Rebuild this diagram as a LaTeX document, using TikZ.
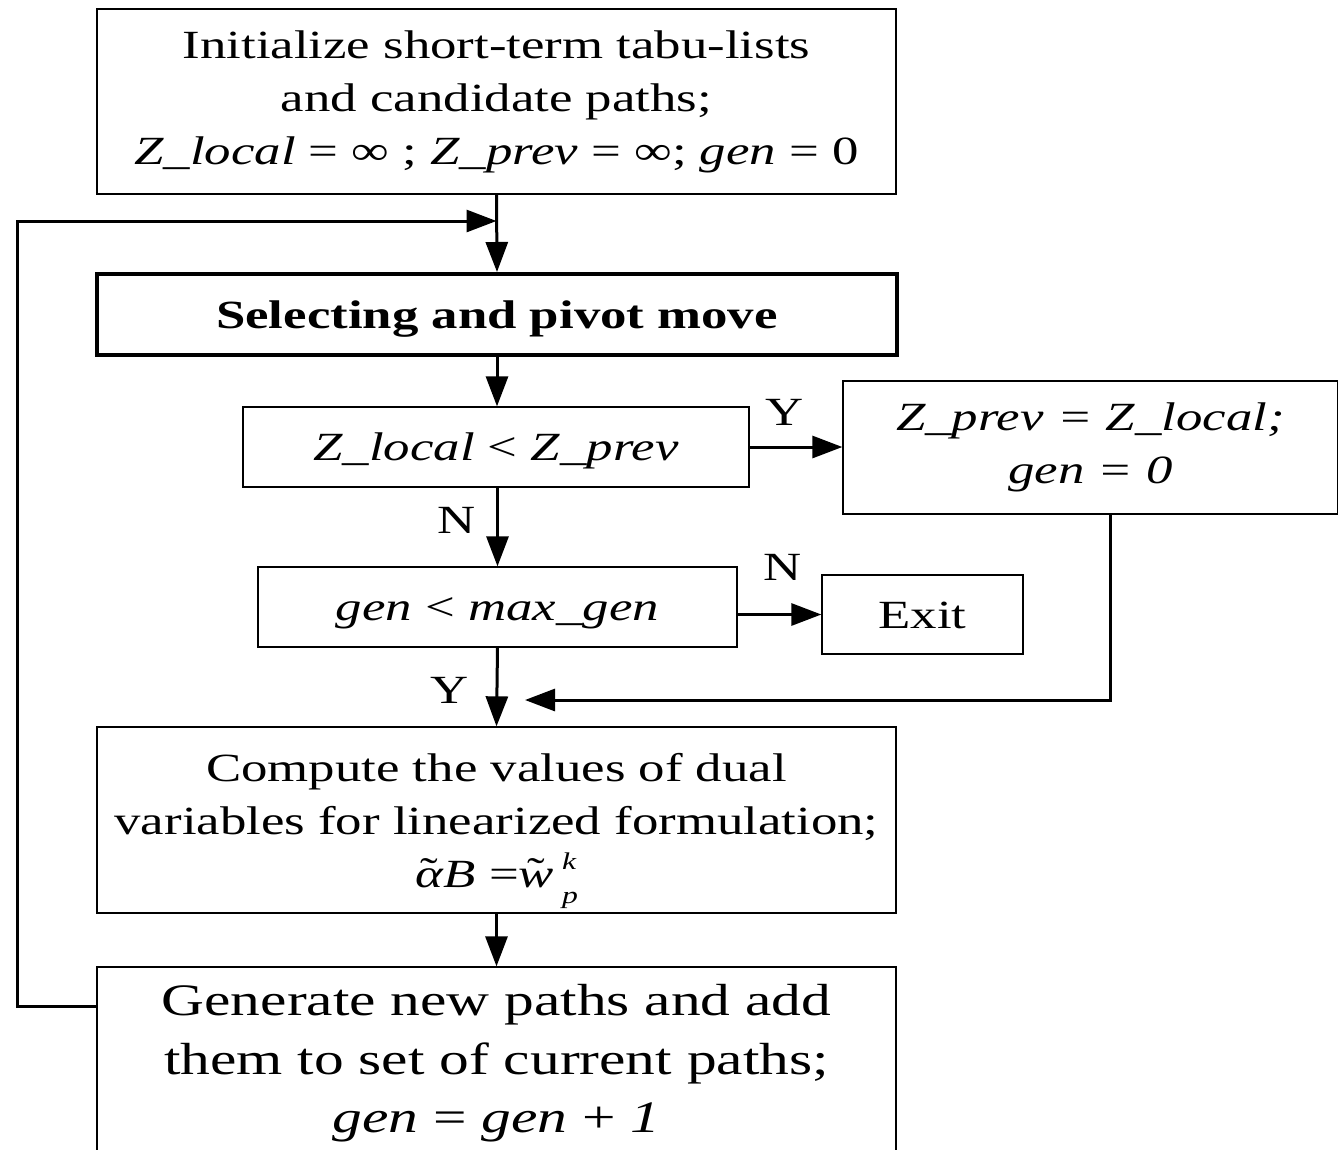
\documentclass[tikz,border=0pt]{standalone}
\usepackage{fontspec}
\setmainfont[FakeStretch=1.32]{Liberation Serif}
\usetikzlibrary{arrows.meta}
\newcommand\fsz{\fontsize{40}{53}\selectfont}
\newcommand\fszb{\fontsize{45}{58.5}\selectfont}
\newcommand\fszs{\fontsize{24}{24}\selectfont}
\newcommand\tildeon[1]{\ooalign{\textit{#1}\cr\hfil\raisebox{2pt}{˜}\hfil\cr}}
\begin{document}
\begin{tikzpicture}[x=1pt,y=-1pt,
  box/.style={draw, line width=1.3pt, rectangle, inner sep=0pt, align=center, font=\fsz},
  onel/.style={text height=38pt, text depth=11pt},
  arr/.style={line width=3pt, -{Triangle[length=30pt,width=22pt]}},
  lbl/.style={font=\fsz, inner sep=0pt}]
\useasboundingbox (0,0) rectangle (1338,1149);
\fill[white] (0,0) rectangle (1338,1149);

\node[box, minimum width=799pt, minimum height=185pt] (init) at (496.5,101.5)
  {Initialize short-term tabu-lists\\and candidate paths;\\\textit{Z\_local} = ∞ ; \textit{Z\_prev} = ∞; \textit{gen} = 0};
\node[box, onel, line width=4pt, minimum width=800pt, minimum height=81pt, font=\fsz\bfseries] (sel) at (497,314.5)
  {Selecting and pivot move};
\node[box, onel, minimum width=506pt, minimum height=80pt] (cmp) at (496,447)
  {\textit{Z\_local} < \textit{Z\_prev}};
\node[box, minimum width=495pt, minimum height=133pt] (upd) at (1090.5,447.5)
  {\textit{Z\_prev = Z\_local;}\\\textit{gen = 0}};
\node[box, onel, minimum width=479pt, minimum height=80pt] (chk) at (497.5,607)
  {\textit{gen} < \textit{max\_gen}};
\node[box, onel, minimum width=201pt, minimum height=79pt] (exit) at (922.5,614.5)
  {Exit};
\node[box, minimum width=799pt, minimum height=186pt] (dual) at (496.5,820)
  {Compute the values of dual\\variables for linearized formulation;\\\tildeon{α}\textit{B} =\tildeon{w}\hspace{8pt}\smash{\makebox[0pt][l]{\raisebox{18pt}{\fszs\textit{k}}}\raisebox{-16pt}{\fszs\textit{p}}}};
\node[box, minimum width=799pt, minimum height=193pt, font=\fszb] (gen) at (496.5,1063.5)
  {Generate new paths and add\\them to set of current paths;\\\textit{gen} = \textit{gen} + \textit{1}};

\coordinate (join) at (496.5,221);
\coordinate (gy) at (0,1006);
\coordinate (ret) at (525,700);
\coordinate (rx) at (1110,0);

\draw[arr] (init.south) -- (sel.north);
\draw[arr] (sel.south) -- (sel.south |- cmp.north);
\draw[arr] (cmp.east) -- (upd.west |- cmp.east);
\draw[arr] (cmp.south -| chk.north) -- (chk.north);
\draw[arr] (chk.east |- exit.west) -- (exit.west);
\draw[arr] (chk.south) -- (dual.north);
\draw[arr] (dual.south) -- (gen.north);
\draw[arr] (gen.west |- gy) -- (17,1006) |- (join);
\draw[arr] (upd.south -| rx) |- (ret);

\node[lbl] (ly1) at (785,412) {Y};
\node[lbl] (ln1) at (457,520) {N};
\node[lbl] (ln2) at (783,567) {N};
\node[lbl] (ly2) at (450,690) {Y};
\end{tikzpicture}
\end{document}
